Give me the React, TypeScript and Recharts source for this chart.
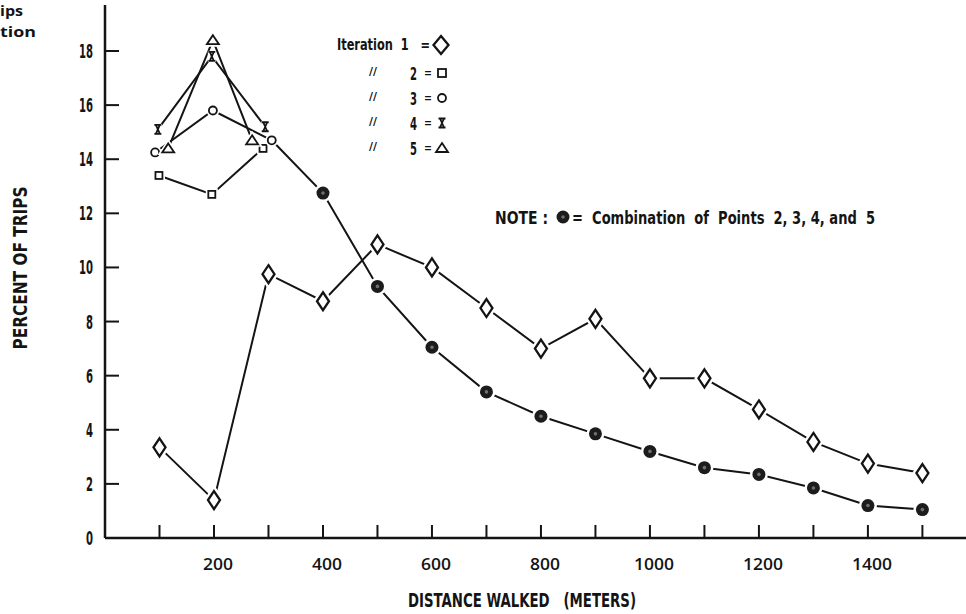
import React from "react";
import { LineChart, Line, XAxis, YAxis } from "recharts";

// distance walked (meters) vs percent of trips
const DIST = [100, 200, 300, 400, 500, 600, 700, 800, 900, 1000, 1100, 1200, 1300, 1400, 1500];
const ITER1 = [3.35, 1.4, 9.75, 8.75, 10.85, 10.0, 8.5, 7.0, 8.1, 5.9, 5.9, 4.75, 3.55, 2.75, 2.4];

// combination of iterations 2-5 (starts from the iteration 3 point near 300 m)
const COMBINED_DIST = [306, 400, 500, 600, 700, 800, 900, 1000, 1100, 1200, 1300, 1400, 1500];
const COMBINED = [14.7, 12.75, 9.3, 7.05, 5.4, 4.5, 3.85, 3.2, 2.6, 2.35, 1.85, 1.2, 1.05];

// the hand plotted markers are shifted a little around 100-300 m
const ITER2_DIST = [99, 196, 290];
const ITER2 = [13.4, 12.7, 14.4];
const ITER3_DIST = [92, 198, 306];
const ITER3 = [14.25, 15.8, 14.7];
const ITER4_DIST = [97, 196, 294];
const ITER4 = [15.1, 17.8, 15.2];
const ITER5_DIST = [116, 198, 270];
const ITER5 = [14.4, 18.4, 14.7];

const Y_TICKS = [0, 2, 4, 6, 8, 10, 12, 14, 16, 18];
const X_TICKS = [100, 200, 300, 400, 500, 600, 700, 800, 900, 1000, 1100, 1200, 1300, 1400, 1500];
const X_LABELS = [200, 400, 600, 800, 1000, 1200, 1400];

const LEGEND_ROWS = ["1", "2", "3", "4", "5"];

const INK = "#141414";
const CONDENSED = '"DejaVu Sans Condensed", "Liberation Sans Narrow", "Roboto Condensed", "DejaVu Sans", sans-serif';

const toPoints = (xs: number[], ys: number[]) => xs.map((x, i) => ({ x, y: ys[i] }));

const DiamondShape = ({ cx, cy, w = 6, h = 9 }: any) => {
  const d = `M${cx},${cy - h} L${cx + w},${cy} L${cx},${cy + h} L${cx - w},${cy} Z`;
  return (
    <g>
      <path d={d} fill="#fff" stroke="#fff" strokeWidth={7} />
      <path d={d} fill="#fff" stroke={INK} strokeWidth={2.3} strokeLinejoin="miter" />
    </g>
  );
};

const SquareShape = ({ cx, cy, s = 3.5 }: any) => (
  <g>
    <rect x={cx - s} y={cy - s} width={s * 2} height={s * 2} fill="#fff" stroke="#fff" strokeWidth={5} />
    <rect x={cx - s} y={cy - s} width={s * 2} height={s * 2} fill="#fff" stroke={INK} strokeWidth={1.8} />
  </g>
);

const CircleShape = ({ cx, cy, r = 4 }: any) => (
  <g>
    <circle cx={cx} cy={cy} r={r} fill="#fff" stroke="#fff" strokeWidth={5} />
    <circle cx={cx} cy={cy} r={r} fill="#fff" stroke={INK} strokeWidth={1.8} />
  </g>
);

const CrossShape = ({ cx, cy }: any) => (
  <g>
    <rect x={cx - 4} y={cy - 5.5} width={8} height={11} fill="#fff" />
    <path
      d={`M${cx - 3.5},${cy - 4.5} H${cx + 3.5} M${cx - 3.5},${cy + 4.5} H${cx + 3.5} M${cx - 2},${cy - 4.5} L${cx + 2},${cy + 4.5} M${cx + 2},${cy - 4.5} L${cx - 2},${cy + 4.5}`}
      stroke={INK}
      strokeWidth={1.8}
      fill="none"
    />
  </g>
);

const TriangleShape = ({ cx, cy, s = 5 }: any) => {
  const d = `M${cx},${cy - s} L${cx + s + 1},${cy + s - 1} L${cx - s - 1},${cy + s - 1} Z`;
  return (
    <g>
      <path d={d} fill="#fff" stroke="#fff" strokeWidth={5} />
      <path d={d} fill="#fff" stroke={INK} strokeWidth={1.8} strokeLinejoin="miter" />
    </g>
  );
};

const FilledDot = ({ cx, cy, r = 6.5 }: any) => (
  <g>
    <circle cx={cx} cy={cy} r={r + 2.5} fill="#fff" />
    <circle cx={cx} cy={cy} r={r} fill="#1c1c1c" />
    <circle cx={cx} cy={cy} r={1.8} fill="#707070" />
  </g>
);

const renderDiamond = (p: any) => <DiamondShape key={`dm-${p.index}`} cx={p.cx} cy={p.cy} />;
const renderSquare = (p: any) => <SquareShape key={`sq-${p.index}`} cx={p.cx} cy={p.cy} />;
const renderCircle = (p: any) => <CircleShape key={`ci-${p.index}`} cx={p.cx} cy={p.cy} />;
const renderCross = (p: any) => <CrossShape key={`cr-${p.index}`} cx={p.cx} cy={p.cy} />;
const renderTriangle = (p: any) => <TriangleShape key={`tr-${p.index}`} cx={p.cx} cy={p.cy} />;
const renderCombined = (p: any) =>
  p.index === 0 ? <g key={`cb-${p.index}`} /> : <FilledDot key={`cb-${p.index}`} cx={p.cx} cy={p.cy} />;

// ticks point into the plot, so both axes draw their own tick marks
const YTick = (props: any) => {
  const { x, y, payload } = props;
  const label = String(payload.value);
  return (
    <g>
      {payload.value !== 0 && <line x1={x} x2={x + 14} y1={y} y2={y} stroke={INK} strokeWidth={2} />}
      <text
        x={x - 12}
        y={y + 7}
        textAnchor="end"
        fontFamily={CONDENSED}
        fontWeight="bold"
        fontSize={19}
        fill={INK}
        textLength={label.length * 7}
        lengthAdjust="spacingAndGlyphs"
      >
        {label}
      </text>
    </g>
  );
};

const XTick = (props: any) => {
  const { x, y, payload } = props;
  const show = X_LABELS.includes(payload.value);
  const label = String(payload.value);
  return (
    <g>
      <line x1={x} x2={x} y1={y} y2={y - 13} stroke={INK} strokeWidth={2} />
      {show && (
        <text
          x={x + 4}
          y={y + 32}
          textAnchor="middle"
          fontFamily='"Open Sans", "DejaVu Sans", sans-serif'
          fontWeight={600}
          fontSize={16}
          fill={INK}
          textLength={label.length * 10}
          lengthAdjust="spacingAndGlyphs"
        >
          {label}
        </text>
      )}
    </g>
  );
};

const LEGEND_Y = [45, 73, 98, 123, 148];

const LegendMarker = ({ index, cx, cy }: any) => {
  if (index === 0) return <DiamondShape cx={cx} cy={cy} w={7.5} h={9} />;
  if (index === 1) return <SquareShape cx={cx} cy={cy} s={4} />;
  if (index === 2) return <CircleShape cx={cx} cy={cy} r={4} />;
  if (index === 3) return <CrossShape cx={cx} cy={cy} />;
  return <TriangleShape cx={cx} cy={cy} s={5} />;
};

const Annotations = () => (
  <svg
    width={966}
    height={614}
    style={{ position: "absolute", left: 0, top: 0, pointerEvents: "none" }}
  >
    {/* clipped text from the neighbouring figure */}
    <text x={0} y={16} fontFamily='"Open Sans", sans-serif' fontWeight="bold" fontSize={15} fill={INK} textLength={23} lengthAdjust="spacingAndGlyphs">
      ips
    </text>
    <text x={0} y={37} fontFamily='"Open Sans", sans-serif' fontWeight="bold" fontSize={15} fill={INK} textLength={36} lengthAdjust="spacingAndGlyphs">
      tion
    </text>

    {/* legend */}
    <g fontFamily={CONDENSED} fontWeight="bold" fill={INK}>
      <text x={337} y={50} fontSize={16} textLength={93} lengthAdjust="spacingAndGlyphs" xmlSpace="preserve">
        Iteration  1   =
      </text>
      {LEGEND_ROWS.map((n, i) => {
        const cy = LEGEND_Y[i];
        const first = i === 0;
        return (
          <g key={n}>
            {!first && (
              <text
                x={369}
                y={cy + 2}
                fontFamily='"DejaVu Sans", sans-serif'
                fontSize={11}
                fontWeight="bold"
                textLength={8}
                lengthAdjust="spacingAndGlyphs"
              >
                //
              </text>
            )}
            {!first && (
              <text x={410} y={cy + 7} fontSize={18} textLength={7} lengthAdjust="spacingAndGlyphs">
                {n}
              </text>
            )}
            {!first && (
              <text x={424} y={cy + 5} fontSize={15} fontWeight="normal" textLength={8} lengthAdjust="spacingAndGlyphs">
                =
              </text>
            )}
            <LegendMarker index={i} cx={first ? 441 : 442} cy={cy} />
          </g>
        );
      })}
    </g>

    {/* note */}
    <g fontFamily={CONDENSED} fontWeight="bold" fill={INK} fontSize={18}>
      <text x={495} y={224} textLength={53} lengthAdjust="spacingAndGlyphs">
        NOTE :
      </text>
      <FilledDot cx={563} cy={217} r={6.5} />
      <text x={572} y={224} textLength={303} lengthAdjust="spacingAndGlyphs" xmlSpace="preserve">
        =  Combination  of  Points  2, 3, 4, and  5
      </text>
    </g>

    {/* axis titles */}
    <text x={408} y={607} fontFamily={CONDENSED} fontWeight="bold" fontSize={20} fill={INK} textLength={228} lengthAdjust="spacingAndGlyphs" xmlSpace="preserve">
      DISTANCE WALKED   (METERS)
    </text>
    <text
      transform="translate(27,268) rotate(-90)"
      x={0}
      y={0}
      textAnchor="middle"
      fontFamily={CONDENSED}
      fontWeight="bold"
      fontSize={20}
      fill={INK}
      textLength={163}
      lengthAdjust="spacingAndGlyphs"
    >
      PERCENT OF TRIPS
    </text>
  </svg>
);

export default function App() {
  return (
    <div style={{ position: "absolute", left: 0, top: 0, width: 966, height: 614, background: "#fff" }}>
      <LineChart width={966} height={614} margin={{ top: 5, right: 0, bottom: 0, left: 0 }}>
        <XAxis
          type="number"
          dataKey="x"
          domain={[0, 1580]}
          ticks={X_TICKS}
          allowDataOverflow
          height={76}
          axisLine={{ stroke: INK, strokeWidth: 2.5 }}
          tickLine={false}
          tickSize={0}
          tickMargin={0}
          tick={<XTick />}
          interval={0}
        />
        <YAxis
          type="number"
          dataKey="y"
          domain={[0, 19.7]}
          ticks={Y_TICKS}
          allowDataOverflow
          width={105}
          axisLine={{ stroke: INK, strokeWidth: 2.5 }}
          tickLine={false}
          tickSize={0}
          tickMargin={0}
          tick={<YTick />}
          interval={0}
        />
        <Line data={toPoints(ITER2_DIST, ITER2)} dataKey="y" stroke={INK} strokeWidth={2} dot={renderSquare} activeDot={false} isAnimationActive={false} />
        <Line data={toPoints(ITER3_DIST, ITER3)} dataKey="y" stroke={INK} strokeWidth={2} dot={renderCircle} activeDot={false} isAnimationActive={false} />
        <Line data={toPoints(ITER4_DIST, ITER4)} dataKey="y" stroke={INK} strokeWidth={2} dot={renderCross} activeDot={false} isAnimationActive={false} />
        <Line data={toPoints(ITER5_DIST, ITER5)} dataKey="y" stroke={INK} strokeWidth={2} dot={renderTriangle} activeDot={false} isAnimationActive={false} />
        <Line data={toPoints(COMBINED_DIST, COMBINED)} dataKey="y" stroke={INK} strokeWidth={2} dot={renderCombined} activeDot={false} isAnimationActive={false} />
        <Line data={toPoints(DIST, ITER1)} dataKey="y" stroke={INK} strokeWidth={2} dot={renderDiamond} activeDot={false} isAnimationActive={false} />
      </LineChart>
      <Annotations />
    </div>
  );
}
